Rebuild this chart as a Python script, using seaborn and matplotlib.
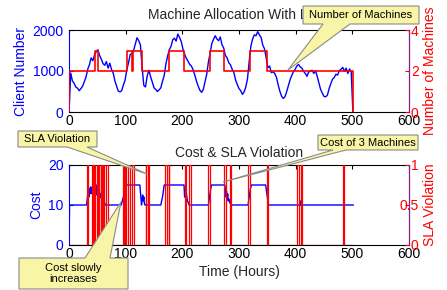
import numpy as np
import pandas as pd
import matplotlib
matplotlib.use('Agg')
import matplotlib.pyplot as plt
import seaborn as sns
from matplotlib.patches import Polygon

# client number sampled every 3 hours (0 .. 501)
client_hours = np.arange(0, 502, 3)
client_number = [
    0, 950, 760, 700, 610, 580, 520, 570, 630, 740,
    850, 1040, 1150, 1320, 1250, 1390, 1470, 1520, 1380, 1290,
    1180, 1140, 1230, 1070, 1190, 1040, 950, 760, 630, 510,
    490, 520, 660, 780, 1030, 1200, 1400, 1430, 1500, 1650,
    1810, 1740, 1640, 1100, 650, 610, 880, 1020, 860, 730,
    590, 550, 500, 540, 590, 750, 890, 1170, 1360, 1520,
    1600, 1760, 1800, 1730, 1900, 1820, 1720, 1540, 1410, 1310,
    1240, 1160, 1120, 1030, 900, 750, 630, 530, 480, 550,
    730, 920, 1220, 1430, 1670, 1770, 1860, 1780, 1740, 1830,
    1640, 1560, 1380, 1320, 1200, 1150, 1040, 960, 780, 670,
    570, 520, 430, 490, 610, 810, 1240, 1610, 1780, 1880,
    1860, 1960, 1880, 1820, 1630, 1540, 1320, 1080, 1120, 960,
    980, 940, 850, 670, 510, 390, 330, 370, 490, 640,
    780, 890, 980, 1040, 1120, 1160, 1100, 1070, 990, 940,
    870, 980, 990, 1020, 940, 1010, 870, 710, 550, 460,
    380, 370, 410, 570, 690, 800, 840, 920, 900, 1010,
    1040, 1090, 990, 1070, 940, 1050, 980, 0,
]

# number of machines (step changes)
machine_hours = [0, 0, 45, 52, 103, 112, 113, 129, 176, 203, 249, 274, 319, 349, 502]
machine_count = [0, 2, 3, 2, 3, 2, 3, 2, 3, 2, 3, 2, 3, 2, 0]

# cost
cost_hours = [0, 1, 31, 33, 34, 35, 36, 37, 38, 39, 40, 42, 48, 49, 50, 51, 52, 53, 54, 56,
              57, 58, 60, 62, 64, 92, 94, 97, 100, 101, 125, 128, 129, 130, 131, 132, 133, 134,
              162, 165, 167, 168, 203, 204, 205, 206, 207, 208, 209, 211, 212, 246, 248, 250,
              251.5, 275, 277, 278, 279, 280, 281, 282, 284, 287, 316, 318, 320, 322, 347, 352,
              408, 408.5, 409, 502]
cost_values = [0, 10, 10, 12.5, 13.5, 12, 14, 13, 14.5, 12.8, 14, 15, 15, 12.5, 14, 11.5, 13.5, 12, 12.8, 11.8,
               13, 11.5, 12.3, 11, 10, 10, 11, 12.5, 14, 15, 15, 10, 11.5, 12.5, 11, 12, 10.5, 10,
               10, 12, 14, 15, 15, 12, 13.5, 11.5, 13, 12, 11, 10.5, 10, 10, 12, 14,
               15, 15, 12, 13.5, 11.5, 12.8, 11, 11.5, 10.5, 10, 10, 12, 14, 15, 15, 10,
               10, 11, 10, 10]

# SLA violation pulses (start, end hours)
sla_start = [31, 41, 44.7, 50, 53, 56, 60.6, 65, 96, 99, 104.7, 111, 136, 140, 170, 176,
             204.5, 211, 245, 274, 284, 316, 349, 403, 409, 483]
sla_end = [33.5, 41.6, 46.5, 50.6, 53.6, 58, 62, 68, 96.6, 101, 107.6, 114.7, 136.6, 141.7, 172.5, 177,
           206, 214.5, 248.5, 276.5, 286, 319, 352, 405.5, 412, 485]

sla_x, sla_y = [0], [0]
for s, e in zip(sla_start, sla_end):
    sla_x += [s, s, e, e]
    sla_y += [0, 1, 1, 0]
sla_x.append(502)
sla_y.append(0)

sns.set_style('white')
plt.rcParams['font.family'] = ['Liberation Sans', 'DejaVu Sans']
plt.rcParams['font.size'] = 10

BLUE = '#0000ff'
RED = '#ff0000'
W, H = 447, 290

fig = plt.figure(figsize=(W / 100, H / 100), dpi=100)


def px_axes(left, top, right, bottom):
    return fig.add_axes([left / W, 1 - bottom / H, (right - left) / W, (bottom - top) / H])


def style_pair(ax, ax2):
    ax.set_xlim(0, 600)
    ax.set_xticks(range(0, 601, 100))
    ax.tick_params(axis='x', direction='in', length=3, top=True, pad=1.5, colors='black')
    ax.tick_params(axis='y', direction='in', length=3, colors=BLUE, pad=4)
    ax2.tick_params(axis='y', direction='in', length=3, colors=RED, pad=7)
    for lab in ax2.get_yticklabels():
        lab.set_horizontalalignment('right')
    ax.spines['left'].set_color(BLUE)
    for sp in ['top', 'bottom']:
        ax.spines[sp].set_color('black')
    for sp in ['top', 'bottom', 'left']:
        ax2.spines[sp].set_visible(False)
    ax2.spines['right'].set_color('#8b1a8b')
    for sp in ax.spines.values():
        sp.set_linewidth(0.8)
    ax2.spines['right'].set_linewidth(0.8)


# Top panel: client number and machines
ax1 = px_axes(69, 30, 409, 112)
sns.lineplot(x=client_hours, y=client_number, ax=ax1, color=BLUE, lw=1.0,
             estimator=None, sort=False)
ax1.set_ylim(0, 2000)
ax1.set_yticks([0, 1000, 2000])
ax1r = ax1.twinx()
sns.lineplot(x=machine_hours, y=machine_count, ax=ax1r, color=RED, lw=1.2,
             estimator=None, sort=False, drawstyle='steps-post')
ax1r.set_ylim(0, 4)
ax1r.set_yticks([0, 2, 4])
style_pair(ax1, ax1r)
ax1.set_title('Machine Allocation With Load', fontsize=10, pad=8)
ax1.set_ylabel('Client Number', color=BLUE, fontsize=10)
ax1.yaxis.set_label_coords(-0.12, 0.5)
ax1r.set_ylabel('Number of Machines', color=RED, fontsize=10)
ax1r.yaxis.set_label_coords(1.042, 0.5)

# Bottom panel: cost and SLA violation
ax2 = px_axes(69, 165, 409, 245)
sns.lineplot(x=cost_hours, y=cost_values, ax=ax2, color=BLUE, lw=1.0,
             estimator=None, sort=False)
ax2.set_ylim(0, 20)
ax2.set_yticks([0, 10, 20])
ax2r = ax2.twinx()
sns.lineplot(x=sla_x, y=sla_y, ax=ax2r, color=RED, lw=0.9,
             estimator=None, sort=False)
ax2r.set_ylim(0, 1)
ax2r.set_yticks([0, 0.5, 1])
ax2r.set_yticklabels(['0', '0.5', '1'])
style_pair(ax2, ax2r)
ax2.set_title('Cost & SLA Violation', fontsize=10, pad=6)
ax2.set_ylabel('Cost', color=BLUE, fontsize=10)
ax2.yaxis.set_label_coords(-0.076, 0.5)
ax2r.set_ylabel('SLA Violation', color=RED, fontsize=10)
ax2r.yaxis.set_label_coords(1.042, 0.5)
ax2.set_xlabel('Time (Hours)', fontsize=10, labelpad=3)

# callouts drawn in figure pixel coordinates
ov = fig.add_axes([0, 0, 1, 1])
ov.set_xlim(0, W)
ov.set_ylim(H, 0)
ov.axis('off')
ov.set_zorder(10)

callouts = [
    ([(303, 6), (419, 6), (419, 24), (350, 24), (288, 70), (323, 24), (303, 24)],
     'Number of Machines', (361, 15.5)),
    ([(18, 131), (97, 131), (97, 147), (87, 147), (147, 174), (67, 147), (18, 147)],
     'SLA Violation', (57.5, 139.5)),
    ([(318, 135), (418, 135), (418, 150), (346, 150), (223, 182), (333, 150), (318, 150)],
     'Cost of 3 Machines', (368, 143)),
    ([(19, 258), (85, 258), (121, 202), (110, 258), (128, 258), (128, 289), (19, 289)],
     'Cost slowly\nincreases', (73.5, 273.5)),
]
for pts, txt, (tx, ty) in callouts:
    ov.add_patch(Polygon(pts, closed=True, facecolor='#f8f5a6', edgecolor='#8a8a8a', lw=0.8))
    ov.text(tx, ty, txt, ha='center', va='center', fontsize=8, color='black', linespacing=1.15)

fig.savefig('out.png', dpi=100)
